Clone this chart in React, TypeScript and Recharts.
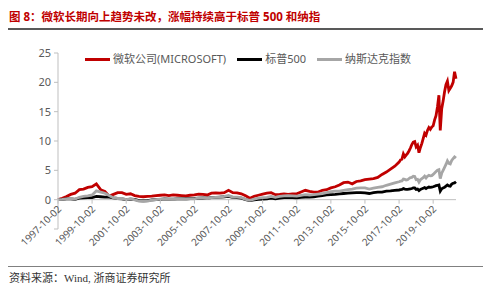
import React from "react";
import { LineChart, Line, XAxis, YAxis, ReferenceLine } from "recharts";

// quarterly points 1997-10 .. 2017-10, then monthly to 2021-02
const months = [
  "1997-10", "1998-01", "1998-04", "1998-07", "1998-10", "1999-01", "1999-04", "1999-07", "1999-10",
  "2000-01", "2000-04", "2000-07", "2000-10", "2001-01", "2001-04", "2001-07", "2001-10",
  "2002-01", "2002-04", "2002-07", "2002-10", "2003-01", "2003-04", "2003-07", "2003-10",
  "2004-01", "2004-04", "2004-07", "2004-10", "2005-01", "2005-04", "2005-07", "2005-10",
  "2006-01", "2006-04", "2006-07", "2006-10", "2007-01", "2007-04", "2007-07", "2007-10",
  "2008-01", "2008-04", "2008-07", "2008-10", "2009-01", "2009-04", "2009-07", "2009-10",
  "2010-01", "2010-04", "2010-07", "2010-10", "2011-01", "2011-04", "2011-07", "2011-10",
  "2012-01", "2012-04", "2012-07", "2012-10", "2013-01", "2013-04", "2013-07", "2013-10",
  "2014-01", "2014-04", "2014-07", "2014-10", "2015-01", "2015-04", "2015-07", "2015-10",
  "2016-01", "2016-04", "2016-07", "2016-10", "2017-01", "2017-04", "2017-07", "2017-10",
  "2017-11", "2017-12",
  "2018-01", "2018-02", "2018-03", "2018-04", "2018-05", "2018-06", "2018-07", "2018-08", "2018-09", "2018-10", "2018-11", "2018-12",
  "2019-01", "2019-02", "2019-03", "2019-04", "2019-05", "2019-06", "2019-07", "2019-08", "2019-09", "2019-10", "2019-11", "2019-12",
  "2020-01", "2020-02", "2020-03", "2020-04", "2020-05", "2020-06", "2020-07", "2020-08", "2020-09", "2020-10", "2020-11", "2020-12",
  "2021-01", "2021-02",
];

const msft = [
  0, 0.25, 0.55, 0.9, 1.1, 1.7, 1.8, 2.1, 2.2,
  2.7, 1.7, 1.4, 0.6, 0.9, 1.2, 1.2, 0.9,
  1.0, 0.7, 0.55, 0.5, 0.55, 0.6, 0.7, 0.75,
  0.8, 0.7, 0.8, 0.75, 0.7, 0.65, 0.75, 0.8,
  0.95, 0.9, 0.8, 1.1, 1.15, 1.1, 1.2, 1.6,
  1.2, 1.15, 1.0, 0.65, 0.25, 0.55, 0.75, 0.95,
  1.1, 1.2, 0.85, 0.9, 1.0, 0.9, 1.0, 1.0,
  1.3, 1.6, 1.4, 1.3, 1.3, 1.6, 1.7, 2.0,
  2.2, 2.5, 2.9, 3.0, 2.7, 3.1, 3.2, 3.4,
  3.5, 3.6, 3.8, 4.3, 4.7, 5.2, 5.7, 6.4,
  6.8, 6.9,
  7.8, 7.3, 7.6, 7.9, 8.3, 8.8, 9.4, 9.8, 9.9, 9.0, 9.3, 8.0,
  8.9, 9.6, 10.4, 11.3, 11.0, 11.8, 12.3, 12.0, 12.4, 12.6, 13.6, 14.3,
  15.8, 17.8, 11.8, 15.5, 16.8, 18.4, 19.6, 20.2, 18.6, 19.0, 19.4, 20.0,
  21.8, 20.6,
];

const spx = [
  0, 0.05, 0.15, 0.12, 0.05, 0.25, 0.3, 0.35, 0.35,
  0.55, 0.5, 0.45, 0.45, 0.3, 0.2, 0.15, 0.0,
  0.1, 0.05, -0.15, -0.2, -0.15, -0.05, 0.0, 0.05,
  0.12, 0.1, 0.1, 0.12, 0.15, 0.12, 0.18, 0.2,
  0.25, 0.28, 0.25, 0.35, 0.4, 0.45, 0.5, 0.55,
  0.4, 0.35, 0.25, 0.0, -0.15, -0.05, 0.05, 0.1,
  0.15, 0.25, 0.15, 0.25, 0.35, 0.4, 0.35, 0.3,
  0.4, 0.45, 0.45, 0.5, 0.6, 0.7, 0.8, 0.85,
  0.9, 1.0, 1.05, 1.1, 1.15, 1.2, 1.2, 1.15,
  1.05, 1.2, 1.3, 1.3, 1.45, 1.5, 1.6, 1.65,
  1.7, 1.75,
  1.9, 1.8, 1.75, 1.75, 1.8, 1.85, 1.9, 2.0, 2.0, 1.75, 1.8, 1.55,
  1.75, 1.85, 1.95, 2.05, 1.9, 2.05, 2.15, 2.1, 2.15, 2.2, 2.3, 2.4,
  2.45, 2.5, 1.45, 1.85, 2.0, 2.1, 2.3, 2.5, 2.35, 2.3, 2.65, 2.8,
  2.85, 3.05,
];

const ndx = [
  0, 0.05, 0.15, 0.2, 0.1, 0.4, 0.55, 0.65, 0.8,
  1.5, 1.3, 1.1, 0.7, 0.3, 0.2, 0.2, 0.0,
  0.15, -0.05, -0.25, -0.3, -0.25, -0.1, 0.0, 0.1,
  0.15, 0.1, 0.05, 0.15, 0.1, 0.05, 0.15, 0.15,
  0.3, 0.3, 0.2, 0.35, 0.4, 0.45, 0.55, 0.7,
  0.45, 0.45, 0.35, 0.05, -0.1, 0.1, 0.25, 0.35,
  0.4, 0.55, 0.4, 0.55, 0.65, 0.7, 0.65, 0.6,
  0.75, 0.85, 0.8, 0.85, 0.95, 1.05, 1.2, 1.35,
  1.45, 1.45, 1.6, 1.7, 1.8, 1.95, 2.0, 2.0,
  1.8, 1.95, 2.1, 2.2, 2.45, 2.65, 2.85, 3.05,
  3.15, 3.2,
  3.5, 3.45, 3.35, 3.4, 3.6, 3.75, 3.8, 4.0, 3.95, 3.4, 3.45, 3.0,
  3.4, 3.6, 3.75, 4.0, 3.7, 4.0, 4.15, 4.05, 4.1, 4.3, 4.55, 4.8,
  5.0, 5.1, 3.6, 4.5, 5.0, 5.5, 6.0, 6.6, 6.2, 6.1, 6.7, 7.0,
  7.3, 7.1,
];

const xTickLabels = [
  "1997-10-02", "1999-10-02", "2001-10-02", "2003-10-02", "2005-10-02", "2007-10-02",
  "2009-10-02", "2011-10-02", "2013-10-02", "2015-10-02", "2017-10-02", "2019-10-02",
];
const yTicks = [-5, 0, 5, 10, 15, 20, 25];

const series = [
  { key: "msft", name: "微软公司(MICROSOFT)", color: "#c00000" },
  { key: "spx", name: "标普500", color: "#000000" },
  { key: "ndx", name: "纳斯达克指数", color: "#a6a6a6" },
];

const toTime = (d: string) => Date.parse(d);

const data = months.map((m, i) => ({
  t: toTime(`${m}-02`),
  msft: msft[i],
  spx: spx[i],
  ndx: ndx[i],
}));

const xTicks = xTickLabels.map(toTime);

const TOP = 53;
const XAXIS_H = 60;
const H = 289;
const W = 500;
// x axis crosses the value axis at 0; domain runs from -5 to 25
const ZERO_UP = ((H - TOP - XAXIS_H) * 5) / 30;

const font = "'Noto Sans', 'Noto Sans CJK SC', sans-serif";

const XTick = (props: any) => {
  const { x, y, payload } = props;
  const y0 = y - ZERO_UP;
  const label = xTickLabels[xTicks.indexOf(payload.value)];
  return (
    <g>
      <line x1={x} x2={x} y1={y0} y2={y0 + 4} stroke="#bfbfbf" />
      <text
        transform={`translate(${x + 4},${y0 + 10}) rotate(-45)`}
        textAnchor="end"
        fontSize={10}
        fill="#595959"
        fontFamily={font}
      >
        {label}
      </text>
    </g>
  );
};

export default function App() {
  return (
    <div
      style={{
        position: "absolute",
        left: 0,
        top: 0,
        width: W,
        height: H,
        background: "#fff",
        fontFamily: font,
      }}
    >
      <div
        style={{
          position: "absolute",
          left: 9,
          top: 9,
          fontSize: 11.5,
          fontWeight: "bold",
          color: "#c00000",
          whiteSpace: "nowrap",
          lineHeight: "16px",
        }}
      >
        图 8：微软长期向上趋势未改，涨幅持续高于标普 500 和纳指
      </div>
      <div style={{ position: "absolute", left: 8, top: 28, width: 475, height: 2, background: "#595959" }} />

      <LineChart
        width={W}
        height={H}
        data={data}
        margin={{ top: TOP, right: 44, bottom: 0, left: 18 }}
      >
        <XAxis
          dataKey="t"
          type="number"
          domain={[toTime("1997-10-02"), toTime("2021-02-02")]}
          ticks={xTicks}
          interval={0}
          axisLine={false}
          tickLine={false}
          tickSize={0}
          tickMargin={0}
          tick={<XTick />}
          height={XAXIS_H}
        />
        <YAxis
          domain={[-5, 25]}
          ticks={yTicks}
          interval={0}
          width={40}
          axisLine={{ stroke: "#bfbfbf" }}
          tickLine={{ stroke: "#bfbfbf" }}
          tickSize={4}
          tickMargin={3}
          tick={{ fontSize: 11, fill: "#595959", fontFamily: font }}
          tickFormatter={(v: number) => (v < 0 ? "" : String(v))}
        />
        <ReferenceLine y={0} stroke="#bfbfbf" />
        {series.map((s) => (
          <Line
            key={s.key}
            dataKey={s.key}
            name={s.name}
            stroke={s.color}
            strokeWidth={2.8}
            dot={false}
            type="linear"
            isAnimationActive={false}
          />
        ))}
      </LineChart>

      <div
        style={{
          position: "absolute",
          left: 85,
          top: 52,
          display: "flex",
          alignItems: "center",
          fontSize: 11,
          color: "#595959",
          whiteSpace: "nowrap",
          lineHeight: "14px",
        }}
      >
        {series.map((s) => (
          <div key={s.key} style={{ display: "flex", alignItems: "center", marginRight: 11 }}>
            <span style={{ display: "inline-block", width: 25, height: 3, background: s.color, marginRight: 3 }} />
            <span>{s.name}</span>
          </div>
        ))}
      </div>

      <div style={{ position: "absolute", left: 8, top: 266, width: 475, height: 1, background: "#808080" }} />
      <div
        style={{
          position: "absolute",
          left: 9,
          top: 271,
          fontSize: 11,
          color: "#333",
          whiteSpace: "nowrap",
          lineHeight: "14px",
          fontFamily: "'Liberation Serif', 'Noto Sans CJK SC', serif",
        }}
      >
        资料来源：Wind, 浙商证券研究所
      </div>
    </div>
  );
}
